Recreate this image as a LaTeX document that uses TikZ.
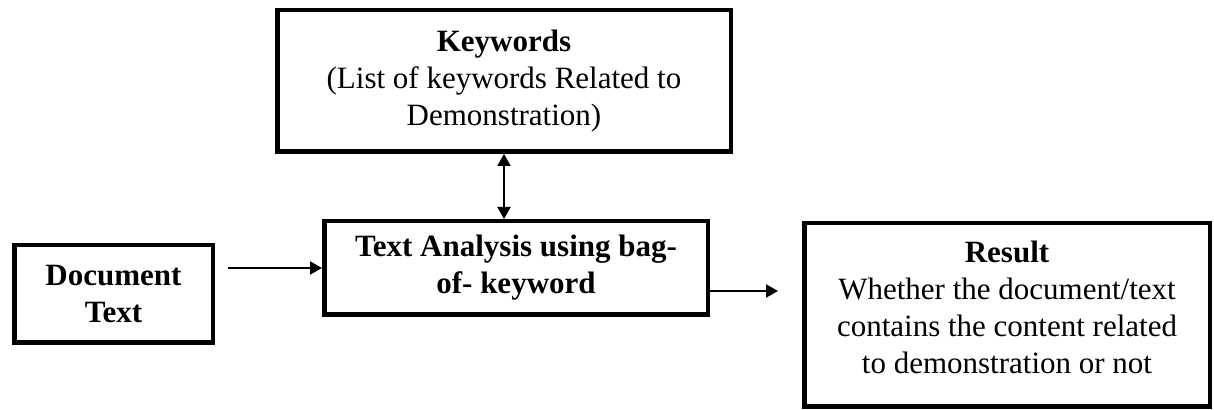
\documentclass[tikz,border=0pt]{standalone}
\usepackage{fontspec}
\setmainfont{Liberation Serif}
\usetikzlibrary{arrows.meta,calc}
\begin{document}
\begin{tikzpicture}[x=0.5pt,y=-0.5pt,
  box/.style={draw, line width=2.25pt, inner sep=0pt, align=center,
    font=\fontsize{15.5}{18.5}\selectfont, fill=white},
  txt/.style={inner sep=0pt, align=center, font=\fontsize{15.5}{18.5}\selectfont},
  tip/.style={Triangle[length=6pt,width=6.5pt]},
  conn/.style={line width=1pt, -{Triangle[length=6pt,width=6.5pt]}},
  dconn/.style={line width=1pt, {Triangle[length=6pt,width=6.5pt]}-{Triangle[length=6pt,width=6.5pt]}},
]
\useasboundingbox (0,0) rectangle (1214,410);
\node[box, minimum width=226.75pt, minimum height=70.75pt] (kw) at (504,81)
  {\textbf{Keywords}\\(List of keywords Related to\\Demonstration)};
\node[box, minimum width=99.25pt, minimum height=48.75pt] (doc) at (113.5,294)
  {\textbf{Document}\\\textbf{Text}};
\node[box, minimum width=191.75pt, minimum height=46.75pt] (ta) at (516,268)
  {\textbf{Text Analysis using bag-}\\\textbf{of- keyword}};
\node[box, minimum width=202.75pt, minimum height=91.75pt] (res) at (1007,315) {};
\node[txt] (restext) at (1007,307.5)
  {\textbf{Result}\\Whether the document/text\\contains the content related\\to demonstration or not};
\draw[dconn] (kw.south) -- (kw.south |- ta.north);
\draw[conn, shorten <=6.5pt] (doc.east |- ta.west) -- (ta.west);
\coordinate (tao) at ($(ta.east)+(0,23)$);
\draw[conn, shorten >=12pt] (tao) -- (tao -| res.west);
\end{tikzpicture}
\end{document}
